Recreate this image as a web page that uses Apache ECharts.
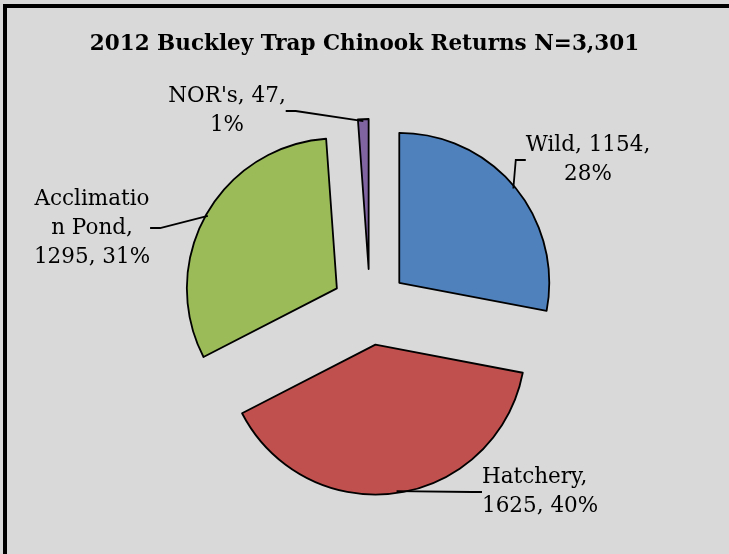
<!DOCTYPE html>
<html>
<head>
<meta charset="utf-8">
<script src="https://cdn.jsdelivr.net/npm/echarts@6/dist/echarts.min.js"></script>
<style>
  html, body { margin: 0; padding: 0; background: #d9d9d9; }
  #frame { position: absolute; left: 3px; top: 4px; width: 740px; height: 560px;
           border-left: 4px solid #000; border-top: 4px solid #000; box-sizing: border-box; }
  #chart { position: absolute; left: 0; top: 0; width: 729px; height: 554px; }
</style>
</head>
<body>
<div id="frame"></div>
<div id="chart"></div>
<script>
// ---- data ----
const chartTitle = "2012 Buckley Trap Chinook Returns N=3,301";
const categories = ["Wild", "Hatchery", "Acclimation Pond", "NOR's"];
const returns = [1154, 1625, 1295, 47];
const sliceColors = ["#4f81bd", "#c0504d", "#9bbb59", "#8064a2"];

// ---- label placement (layout, not data) ----
const labelPos = [
  { x: 588, y: 160, align: "center" },
  { x: 482, y: 492, align: "left" },
  { x: 92,  y: 228, align: "center" },
  { x: 227, y: 111, align: "center" }
];

function labelText(p) {
  const i = p.dataIndex;
  const pct = p.percent + "%";
  if (i === 1) return p.name + ",\n" + p.value + ", " + pct;
  if (i === 2) return p.name.slice(0, 10) + "\n" + p.name.slice(10).trim() + ",\n" + p.value + ", " + pct;
  return p.name + ", " + p.value + ",\n" + pct;
}

const chart = echarts.init(document.getElementById("chart"), null, { renderer: "canvas" });

const pieCenter = [370, 307];

chart.setOption({
  animation: false,
  backgroundColor: "transparent",
  title: {
    text: chartTitle,
    left: "center",
    top: 28,
    textStyle: { fontFamily: "DejaVu Serif", fontWeight: "bold", fontSize: 21.5, color: "#000" }
  },
  series: [
    {
      // exploded slices
      type: "pie",
      center: pieCenter,
      radius: 150,
      startAngle: 90,
      clockwise: true,
      selectedMode: "multiple",
      selectedOffset: 38,
      percentPrecision: 0,
      silent: true,
      itemStyle: { borderColor: "#000", borderWidth: 1.8 },
      select: { itemStyle: { borderColor: "#000", borderWidth: 1.8 } },
      emphasis: { disabled: true },
      label: { show: false },
      labelLine: { show: false },
      data: categories.map((c, i) => ({
        name: c, value: returns[i], selected: true,
        itemStyle: { color: sliceColors[i] }
      }))
    },
    {
      // invisible companion ring that carries the data labels and leader lines
      type: "pie",
      center: pieCenter,
      radius: 186,
      startAngle: 90,
      clockwise: true,
      selectedMode: false,
      percentPrecision: 0,
      silent: true,
      z: 3,
      itemStyle: { color: "rgba(0,0,0,0)", borderWidth: 0 },
      emphasis: { disabled: true },
      label: {
        show: true,
        position: "outside",
        formatter: labelText,
        fontFamily: "DejaVu Serif",
        fontSize: 21.5,
        lineHeight: 29,
        color: "#000"
      },
      labelLine: {
        show: true,
        length: 10,
        length2: 10,
        lineStyle: { color: "#000", width: 1.8 }
      },
      labelLayout: function (params) {
        const p = labelPos[params.dataIndex];
        return { x: p.x, y: p.y, align: p.align, verticalAlign: "middle" };
      },
      data: categories.map((c, i) => ({ name: c, value: returns[i] }))
    }
  ]
});
</script>
</body>
</html>
